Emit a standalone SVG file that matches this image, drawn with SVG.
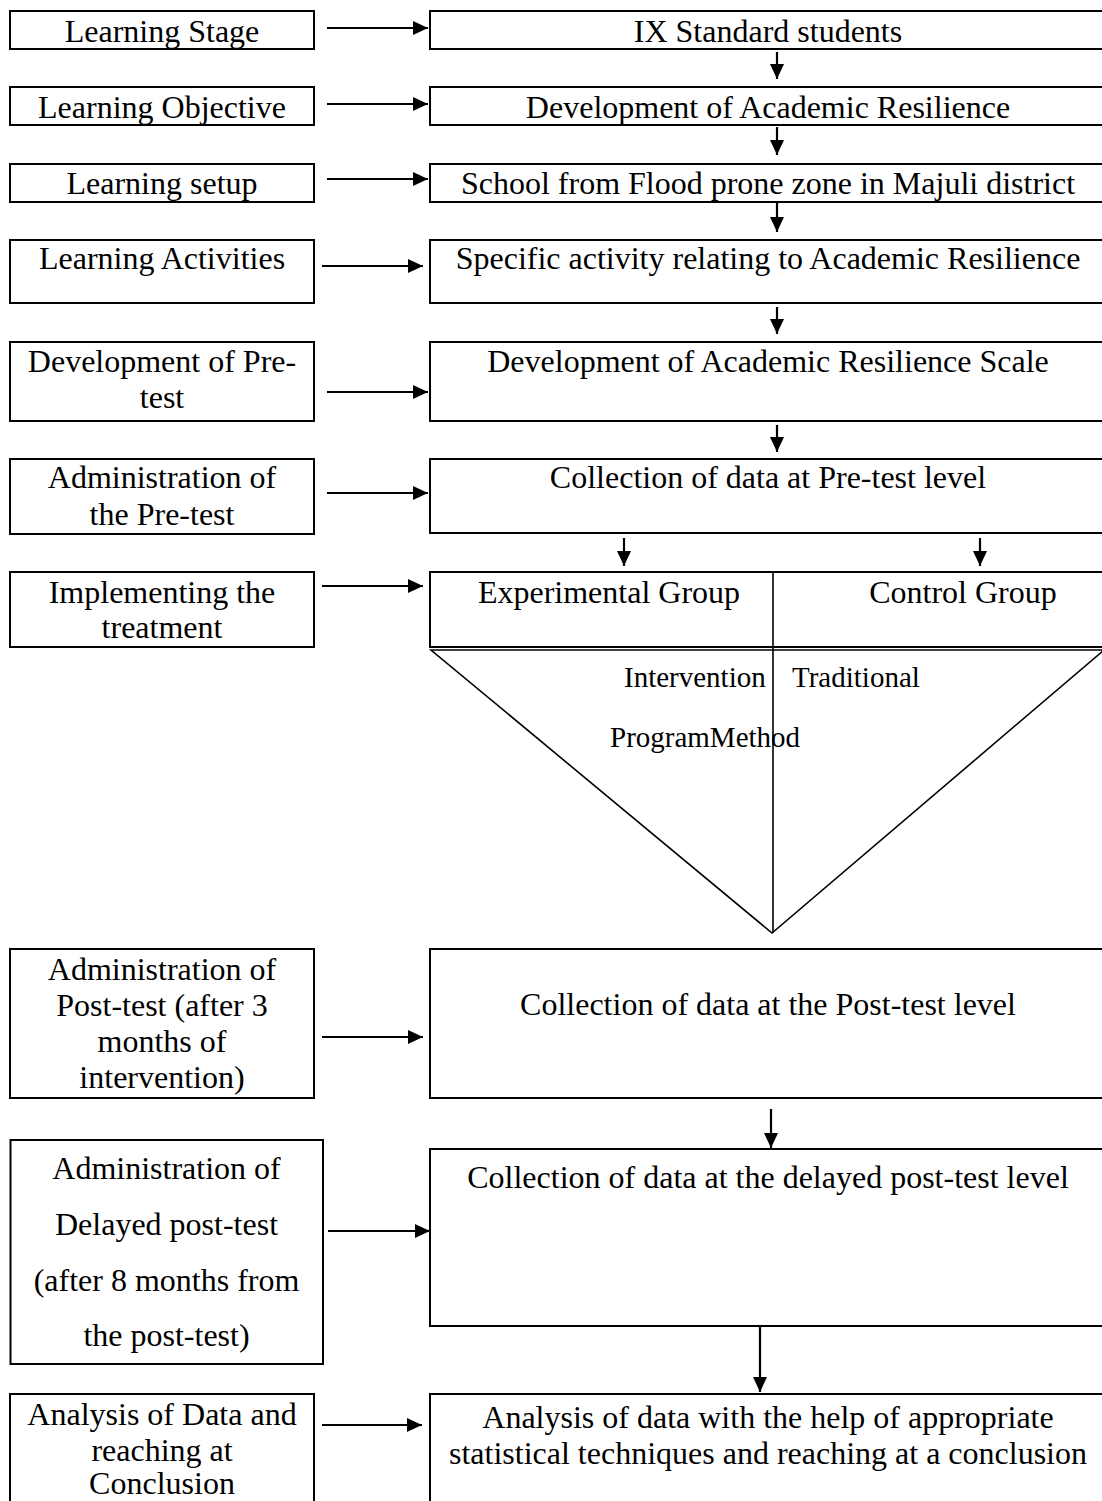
<svg xmlns="http://www.w3.org/2000/svg" width="1102" height="1501" viewBox="0 0 1102 1501">
<defs>
<marker id="ah" markerUnits="userSpaceOnUse" markerWidth="15" markerHeight="14" refX="15" refY="7" orient="auto">
<path d="M0,0 L15,7 L0,14 Z" fill="#000"/>
</marker>
<style>
.box{fill:#fff;stroke:#000;stroke-width:2}
.t{font-family:"Liberation Serif","Times New Roman",serif;font-size:32px;fill:#000;text-anchor:middle}
.s{font-family:"Liberation Serif","Times New Roman",serif;font-size:29px;fill:#000}
.c{stroke:#000;stroke-width:2.2;fill:none;marker-end:url(#ah)}
.ln{stroke:#000;stroke-width:1.6;fill:none}
</style>
</defs>
<rect width="1102" height="1501" fill="#fff"/>

<g id="n-stage"><rect class="box" x="10" y="11" width="304" height="38"/><text class="t" x="162" y="42">Learning Stage</text></g>
<g id="n-ix"><rect class="box" x="430" y="11" width="680" height="38"/><text class="t" x="768" y="42">IX Standard students</text></g>

<g id="n-objective"><rect class="box" x="10" y="87" width="304" height="38"/><text class="t" x="162" y="118">Learning Objective</text></g>
<g id="n-devar"><rect class="box" x="430" y="87" width="680" height="38"/><text class="t" x="768" y="118">Development of Academic Resilience</text></g>

<g id="n-setup"><rect class="box" x="10" y="164" width="304" height="38"/><text class="t" x="162" y="194">Learning setup</text></g>
<g id="n-school"><rect class="box" x="430" y="164" width="680" height="38"/><text class="t" x="768" y="194">School from Flood prone zone in Majuli district</text></g>

<g id="n-activities"><rect class="box" x="10" y="240" width="304" height="63"/><text class="t" x="162" y="269">Learning Activities</text></g>
<g id="n-specific"><rect class="box" x="430" y="240" width="680" height="63"/><text class="t" x="768" y="269">Specific activity relating to Academic Resilience</text></g>

<g id="n-devpre"><rect class="box" x="10" y="342" width="304" height="79"/><text class="t" x="162" y="372">Development of Pre-</text><text class="t" x="162" y="408">test</text></g>
<g id="n-scale"><rect class="box" x="430" y="342" width="680" height="79"/><text class="t" x="768" y="372">Development of Academic Resilience Scale</text></g>

<g id="n-adminpre"><rect class="box" x="10" y="459" width="304" height="75"/><text class="t" x="162" y="488">Administration of</text><text class="t" x="162" y="525">the Pre-test</text></g>
<g id="n-collectpre"><rect class="box" x="430" y="459" width="680" height="74"/><text class="t" x="768" y="488">Collection of data at Pre-test level</text></g>

<g id="n-implement"><rect class="box" x="10" y="572" width="304" height="75"/><text class="t" x="162" y="603">Implementing the</text><text class="t" x="162" y="638">treatment</text></g>
<g id="n-groups"><rect class="box" x="430" y="572" width="680" height="75"/><text class="t" x="609" y="603">Experimental Group</text><text class="t" x="963" y="603">Control Group</text></g>

<g id="n-treatment">
<polygon class="ln" points="431,650 1104,650 772,933"/>
<line class="ln" x1="773" y1="572" x2="773" y2="933"/>
<text class="s" x="624" y="687">Intervention</text>
<text class="s" x="792" y="687">Traditional</text>
<text class="s" x="610" y="747">ProgramMethod</text>
</g>

<g id="n-adminpost"><rect class="box" x="10" y="949" width="304" height="149"/><text class="t" x="162" y="980">Administration of</text><text class="t" x="162" y="1016">Post-test (after 3</text><text class="t" x="162" y="1052">months of</text><text class="t" x="162" y="1088">intervention)</text></g>
<g id="n-collectpost"><rect class="box" x="430" y="949" width="680" height="149"/><text class="t" x="768" y="1015">Collection of data at the Post-test level</text></g>

<g id="n-admindelayed"><rect class="box" x="10.5" y="1140" width="312.5" height="224"/><text class="t" x="166.5" y="1179">Administration of</text><text class="t" x="166.5" y="1235">Delayed post-test</text><text class="t" x="166.5" y="1291">(after 8 months from</text><text class="t" x="166.5" y="1346">the post-test)</text></g>
<g id="n-collectdelayed"><rect class="box" x="430" y="1149" width="680" height="177"/><text class="t" x="768" y="1188">Collection of data at the delayed post-test level</text></g>

<g id="n-analysis"><rect class="box" x="10" y="1394" width="304" height="120"/><text class="t" x="162" y="1425">Analysis of Data and</text><text class="t" x="162" y="1461">reaching at</text><text class="t" x="162" y="1494">Conclusion</text></g>
<g id="n-analysisdata"><rect class="box" x="430" y="1394" width="680" height="120"/><text class="t" x="768" y="1428">Analysis of data with the help of appropriate</text><text class="t" x="768" y="1464">statistical techniques and reaching at a conclusion</text></g>

<g id="connectors">
<line class="c" x1="327" y1="28" x2="428" y2="28"/>
<line class="c" x1="327" y1="104" x2="428" y2="104"/>
<line class="c" x1="327" y1="179" x2="428" y2="179"/>
<line class="c" x1="322" y1="266" x2="423" y2="266"/>
<line class="c" x1="327" y1="392" x2="428" y2="392"/>
<line class="c" x1="327" y1="493" x2="428" y2="493"/>
<line class="c" x1="322" y1="586" x2="423" y2="586"/>
<line class="c" x1="322" y1="1037" x2="423" y2="1037"/>
<line class="c" x1="328" y1="1231" x2="430" y2="1231"/>
<line class="c" x1="322" y1="1425" x2="422" y2="1425"/>
<line class="c" x1="777" y1="52" x2="777" y2="79"/>
<line class="c" x1="777" y1="127" x2="777" y2="155"/>
<line class="c" x1="777" y1="203" x2="777" y2="232"/>
<line class="c" x1="777" y1="307" x2="777" y2="334"/>
<line class="c" x1="777" y1="425" x2="777" y2="452"/>
<line class="c" x1="624" y1="538" x2="624" y2="566"/>
<line class="c" x1="980" y1="538" x2="980" y2="566"/>
<line class="c" x1="771" y1="1109" x2="771" y2="1148"/>
<line class="c" x1="760" y1="1326" x2="760" y2="1392"/>
</g>
</svg>
